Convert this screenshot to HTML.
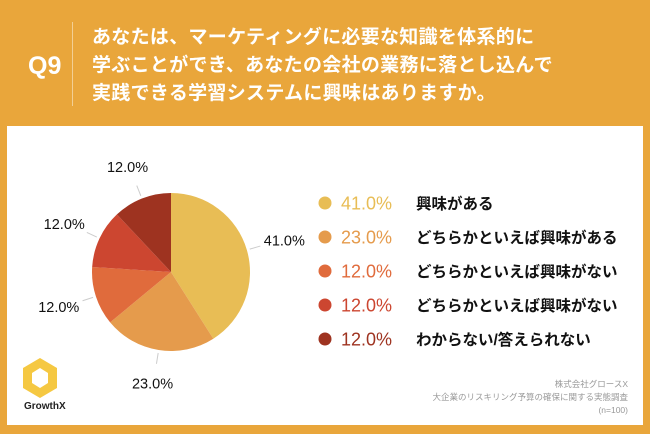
<!DOCTYPE html>
<html><head><meta charset="utf-8"><style>
body{margin:0;width:650px;height:434px;background:#E9A63B;font-family:"Liberation Sans","Noto Sans CJK JP",sans-serif;overflow:hidden;position:relative}
.q{position:absolute;left:28px;top:52px;color:#fff;font-size:25px;font-weight:bold}
.sep{position:absolute;left:72px;top:22px;width:1px;height:84px;background:#f3cf94}
.title{position:absolute;left:92px;top:24px;color:#fff;font-size:19px;font-weight:bold;line-height:28px;letter-spacing:0.3px}
.panel{position:absolute;left:7px;top:126px;width:636px;height:299px;background:#fff}
.foot{position:absolute;right:22px;top:378px;text-align:right;color:#999;font-size:8.5px;line-height:13px}
</style></head><body>
<div class="q">Q9</div>
<div class="sep"></div>
<div class="title">あなたは、マーケティングに必要な知識を体系的に<br>学ぶことができ、あなたの会社の業務に落とし込んで<br>実践できる学習システムに興味はありますか。</div>
<div class="panel"></div>
<svg id="chart" width="650" height="434" style="position:absolute;left:0;top:0"></svg>
<div style="position:absolute;left:18px;top:356px;width:44px;height:44px">
<svg width="44" height="44"><polygon points="22,2 39,12 39,32 22,42 5,32 5,12" fill="#F5C842"/><polygon points="22,12 30,17 30,27 22,32 14,27 14,17" fill="#fff"/></svg></div>
<div style="position:absolute;left:24px;top:401px;font-size:10px;font-weight:bold;color:#222">GrowthX</div>
<div class="foot">株式会社グロースX<br>大企業のリスキリング予算の確保に関する実態調査<br>(n=100)</div>
<script>
const categories=["興味がある","どちらかといえば興味がある","どちらかといえば興味がない","どちらかといえば興味がない","わからない/答えられない"];
const values=[41.0,23.0,12.0,12.0,12.0];
const colors=["#E8BD55","#E59B4C","#E06B3C","#CC4630","#9E3320"];
const NS="http://www.w3.org/2000/svg";
const svg=document.getElementById('chart');
const cx=171,cy=272,r=79;
const total=values.reduce((a,b)=>a+b,0);
function pt(a,rr){return [cx+rr*Math.sin(a),cy-rr*Math.cos(a)];}
let a0=0;
values.forEach((v,i)=>{
 const a1=a0+v/total*2*Math.PI;
 const p0=pt(a0,r),p1=pt(a1,r);
 const path=document.createElementNS(NS,'path');
 path.setAttribute('d',`M${cx},${cy}L${p0[0]},${p0[1]}A${r},${r} 0 ${a1-a0>Math.PI?1:0} 1 ${p1[0]},${p1[1]}Z`);
 path.setAttribute('fill',colors[i]);
 
 
 svg.appendChild(path);
 const m=(a0+a1)/2;
 const s=Math.sin(m);
 const l0=pt(m,r+3),l1=pt(m,r+14),lt=pt(m,r+34);
 const ln=document.createElementNS(NS,'line');
 ln.setAttribute('x1',l0[0]);ln.setAttribute('y1',l0[1]);ln.setAttribute('x2',l1[0]);ln.setAttribute('y2',l1[1]);
 ln.setAttribute('stroke','#ccc');ln.setAttribute('stroke-width','1');
 
 
 svg.appendChild(ln);
 const t=document.createElementNS(NS,'text');
 t.setAttribute('x',lt[0]+5*s);t.setAttribute('y',lt[1]+5);t.setAttribute('text-anchor','middle');
 t.setAttribute('font-size','14.5');t.setAttribute('fill','#111');
 t.textContent=v.toFixed(1)+'%';
 
 
 svg.appendChild(t);
 a0=a1;
});
categories.forEach((c,i)=>{
 const y=203+i*34;
 const g=document.createElementNS(NS,'g');
 
 
 const d=document.createElementNS(NS,'circle');
 d.setAttribute('cx',325);d.setAttribute('cy',y);d.setAttribute('r',6.5);d.setAttribute('fill',colors[i]);
 g.appendChild(d);
 const p=document.createElementNS(NS,'text');
 p.setAttribute('x',341);p.setAttribute('y',y+6.5);p.setAttribute('font-size','18');p.setAttribute('fill',colors[i]);
 p.textContent=values[i].toFixed(1)+'%';
 g.appendChild(p);
 const l=document.createElementNS(NS,'text');
 l.setAttribute('x',416);l.setAttribute('y',y+6);l.setAttribute('font-size','15.5');l.setAttribute('font-weight','bold');l.setAttribute('fill','#111');
 l.textContent=c;
 g.appendChild(l);
 svg.appendChild(g);
});
</script>
</body></html>
